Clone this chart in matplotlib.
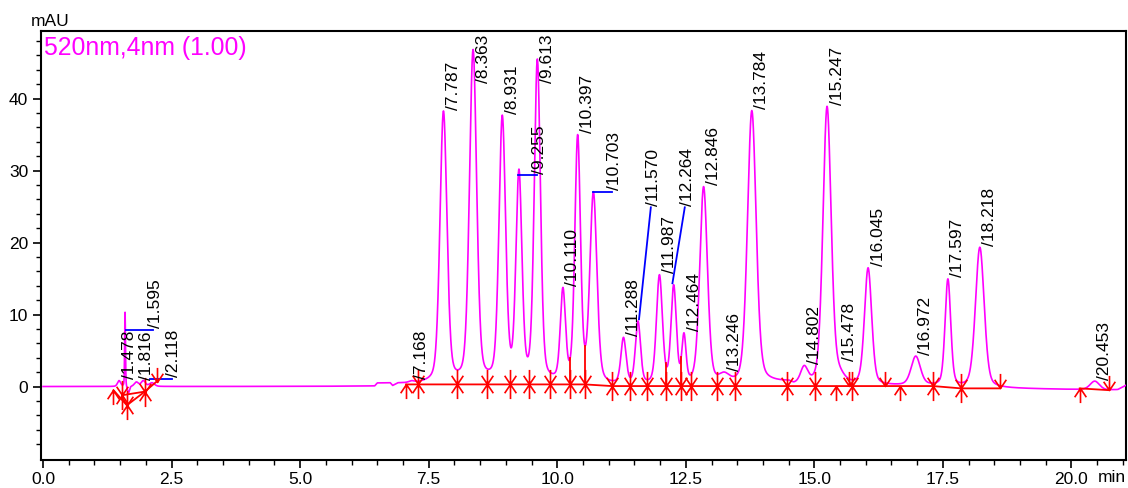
import numpy as np
import matplotlib
matplotlib.use("Agg")
import matplotlib.pyplot as plt
from matplotlib.path import Path
from matplotlib.ticker import MultipleLocator, FixedLocator

plt.rcParams['font.family'] = ['Liberation Sans', 'DejaVu Sans']

# integrated peaks: retention time (min), apex height above baseline (mAU), width (sigma, min)
peak_rt = [1.478, 1.595, 1.816, 2.118, 7.168, 7.787, 8.363, 8.931, 9.255, 9.613,
           10.110, 10.397, 10.703, 11.288, 11.570, 11.987, 12.264, 12.464, 12.846,
           13.246, 13.784, 14.802, 15.247, 15.478, 16.045, 16.972, 17.597, 18.218, 20.453]
peak_h = [0.8, 10.4, 0.6, 0.5, 0.2, 37.6, 46.0, 36.5, 28.6, 44.5,
          12.4, 33.8, 26.2, 6.3, 8.6, 15.0, 13.4, 6.4, 27.4,
          1.1, 38.1, 2.2, 38.6, 1.0, 16.2, 4.0, 14.8, 19.5, 1.2]
peak_w = [0.03, 0.008, 0.04, 0.05, 0.05, 0.068, 0.07, 0.064, 0.058, 0.06,
          0.05, 0.055, 0.068, 0.05, 0.05, 0.058, 0.052, 0.04, 0.075,
          0.1, 0.085, 0.07, 0.08, 0.1, 0.07, 0.09, 0.055, 0.085, 0.09]

# unlabelled wiggles near the solvent front
extra_rt = [1.66, 1.95]
extra_h = [-1.0, 0.8]
extra_w = [0.02, 0.04]

# drifting detector baseline
base_t = [0, 6.45, 6.5, 6.75, 6.8, 6.9, 7.3, 10.5, 11.0, 13.9, 14.0, 14.5, 14.6,
          17.3, 17.9, 18.4, 20.7, 20.9, 21.1]
base_y = [0, 0, 0.4, 0.4, 0.0, 0.35, 0.3, 0.3, 0.05, 0.05, 0.4, 0.4, 0.05,
          0.05, -0.2, -0.25, -0.5, -0.45, 0.3]

# integration marks (start/end of peaks) and drawn baselines
mark_t = [1.37, 1.54, 1.63, 1.98, 2.21,
          7.06, 7.29, 8.05, 8.64, 9.08, 9.45, 9.86, 10.25, 10.54, 11.06, 11.41, 11.75,
          12.11, 12.41, 12.61, 13.10, 13.46, 14.47, 15.01, 15.43, 15.67, 15.74,
          16.37, 16.67, 17.31, 17.85, 18.61, 20.16, 20.73]
mark_y = [-0.5, -1.2, -2.6, -0.7, 0.7,
          0.3, 0.3, 0.3, 0.3, 0.3, 0.3, 0.3, 0.3, 0.3, 0.07, 0.07, 0.07,
          0.07, 0.07, 0.07, 0.07, 0.07, 0.07, 0.07, 0.07, 0.07, 0.07,
          0.07, 0.07, 0.07, -0.25, -0.25, -0.25, -0.5]
mark_kind = ['u', 'b', 'b', 'b', 'd',
             'u', 'b', 'b', 'b', 'b', 'b', 'b', 'b', 'b', 'b', 'b', 'b',
             'b', 'b', 'b', 'b', 'b', 'b', 'b', 'u', 'd', 'b',
             'd', 'u', 'b', 'b', 'd', 'u', 'd']
drop_t = [10.25, 10.54, 12.11, 12.41]

red_lines = [
    ([7.06, 10.54, 11.06, 17.31, 17.85, 18.61], [0.3, 0.3, 0.07, 0.07, -0.25, -0.25]),
    ([20.16, 20.73], [-0.25, -0.5]),
    ([1.37, 1.63, 1.98, 2.21], [-0.5, -2.6, -0.7, 0.7]),
    ([1.54, 1.98], [-1.2, -0.7]),
]

# labels moved away from their peak, joined by a blue leader
leader = {
    1.595: ([1.61, 2.14], [7.9, 7.9]),
    2.118: ([2.08, 2.5], [1.1, 1.1]),
    9.255: ([9.24, 9.6], [29.4, 29.4]),
    10.703: ([10.69, 11.06], [27.1, 27.1]),
    11.570: ([11.59, 11.82], [9.35, 24.9]),
    12.264: ([12.24, 12.48], [14.35, 24.9]),
}

MAGENTA = '#ff00ff'
RED = '#ff0000'
BLUE = '#0000ff'

t = np.arange(0, 21.1, 0.002)
eta = 0.3


def peak(x, rt, h, w):
    g = np.exp(-0.5 * ((x - rt) / w) ** 2)
    lor = 1.0 / (1.0 + ((x - rt) / (1.1774 * w)) ** 2)
    return h * ((1 - eta) * g + eta * lor)


base = np.interp(t, base_t, base_y)
signal = base.copy()
for rt, h, w in zip(peak_rt + extra_rt, peak_h + extra_h, peak_w + extra_w):
    signal += peak(t, rt, h, w)


def arrow_marker(kind):
    verts, codes = [], []
    if kind in 'ub':
        verts += [(0, -1), (0, 0), (-0.4, -0.6), (0, 0), (0.4, -0.6)]
        codes += [Path.MOVETO, Path.LINETO, Path.MOVETO, Path.LINETO, Path.LINETO]
    if kind in 'db':
        verts += [(0, 1), (0, 0), (-0.4, 0.6), (0, 0), (0.4, 0.6)]
        codes += [Path.MOVETO, Path.LINETO, Path.MOVETO, Path.LINETO, Path.LINETO]
    return Path(verts, codes)


fig = plt.figure(figsize=(11.28, 4.88), dpi=100)
ax = fig.add_axes([0.0361, 0.0574, 0.9621, 0.8791])

ax.plot(t, signal, color=MAGENTA, lw=1.2, zorder=3)

for xs, ys in red_lines:
    ax.plot(xs, ys, color=RED, lw=1.3, zorder=4)

for x in drop_t:
    y0 = np.interp(x, mark_t, mark_y)
    ax.plot([x, x], [y0, np.interp(x, t, signal)], color=RED, lw=1.3, zorder=4)

for x, y, k in zip(mark_t, mark_y, mark_kind):
    ax.plot([x], [y], marker=arrow_marker(k), ms=21, mfc='none', mec=RED, mew=1.2,
            linestyle='none', zorder=5)

top_lim = 48.9
for rt, h in zip(peak_rt, peak_h):
    text = '/%.3f' % rt
    if rt in leader:
        xs, ys = leader[rt]
        ax.plot(xs, ys, color=BLUE, lw=1.3, zorder=4)
        lx, ly = xs[-1] - 0.1, ys[-1] + 0.2
    else:
        apex = np.interp(rt, t, signal)
        lx, ly = rt + 0.05, apex + 0.2
    va = 'bottom'
    if ly + 1.2 * len(text) > top_lim:
        ly, va = top_lim, 'top'
    ax.text(lx, ly, text, rotation=90, ha='left', va=va, fontsize=12.5,
            color='black', zorder=6, clip_on=False)

ax.set_xlim(-0.045, 21.06)
ax.set_ylim(-10.2, 49.4)
ax.xaxis.set_major_locator(MultipleLocator(2.5))
ax.xaxis.set_minor_locator(MultipleLocator(0.5))
ax.yaxis.set_major_locator(FixedLocator([0, 10, 20, 30, 40]))
ax.yaxis.set_minor_locator(FixedLocator(np.arange(-8, 49, 2)))
ax.xaxis.set_major_formatter(plt.FuncFormatter(lambda v, p: '%.1f' % v))
ax.tick_params(which='major', direction='out', length=6, width=1.2, labelsize=12.5, pad=3)
ax.tick_params(which='minor', direction='out', length=3.5, width=1.0)
for s in ax.spines.values():
    s.set_linewidth(1.5)

ax.text(0.003, 0.988, '520nm,4nm (1.00)', transform=ax.transAxes, ha='left', va='top',
        fontsize=17.8, color=MAGENTA)
fig.text(50 / 1128, (488 - 21) / 488, 'mAU', ha='center', va='center', fontsize=12.5)
fig.text(1112 / 1128, (488 - 478) / 488, 'min', ha='center', va='center', fontsize=12.5)

fig.savefig('out.png', dpi=100)
